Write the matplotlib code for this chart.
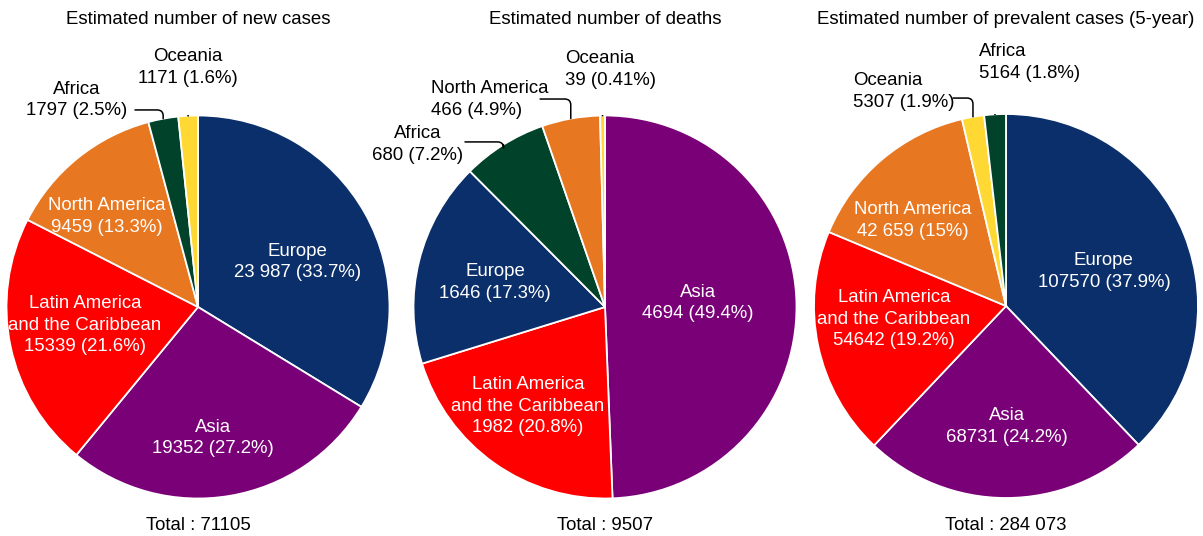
import numpy as np
import matplotlib
matplotlib.use("Agg")
import matplotlib.pyplot as plt

plt.rcParams['font.family'] = ['Liberation Sans', 'DejaVu Sans']

W, H = 1203, 536

# colours per region
colors = {
    'Europe': '#0b2f6b',
    'Asia': '#7a0077',
    'Latin America': '#ff0000',
    'North America': '#e87722',
    'Africa': '#00432a',
    'Oceania': '#ffd833',
}

titles = ['Estimated number of new cases',
          'Estimated number of deaths',
          'Estimated number of prevalent cases (5-year)']
totals = ['Total : 71105', 'Total : 9507', 'Total : 284 073']

# new cases (clockwise from 12 o'clock)
cases_regions = ['Europe', 'Asia', 'Latin America', 'North America', 'Africa', 'Oceania']
cases_values = [23987, 19352, 15339, 9459, 1797, 1171]
cases_labels = ['Europe\n23 987 (33.7%)', 'Asia\n19352 (27.2%)',
                'Latin America\nand the Caribbean\n15339 (21.6%)',
                'North America\n9459 (13.3%)', 'Africa\n1797 (2.5%)',
                'Oceania\n1171 (1.6%)']

# deaths
deaths_regions = ['Asia', 'Latin America', 'Europe', 'Africa', 'North America', 'Oceania']
deaths_values = [4694, 1982, 1646, 680, 466, 39]
deaths_labels = ['Asia\n4694 (49.4%)',
                 'Latin America\nand the Caribbean\n1982 (20.8%)',
                 'Europe\n1646 (17.3%)', 'Africa\n680 (7.2%)',
                 'North America\n466 (4.9%)', 'Oceania\n39 (0.41%)']

# prevalence
prev_regions = ['Europe', 'Asia', 'Latin America', 'North America', 'Oceania', 'Africa']
prev_values = [107570, 68731, 54642, 42659, 5307, 5164]
prev_labels = ['Europe\n107570 (37.9%)', 'Asia\n68731 (24.2%)',
               'Latin America\nand the Caribbean\n54642 (19.2%)',
               'North America\n42 659 (15%)', 'Oceania\n5307 (1.9%)',
               'Africa\n5164 (1.8%)']

# pie centre / radius in pixels
pies = [(198, 307, 191.5), (605, 307, 191.5), (1006, 306, 192)]

# label placement (pie units), alignment, connector start (None = inside)
cases_pos = [((0.52, 0.235), 'center', None), ((0.078, -0.684), 'center', None),
             ((-0.59, -0.094), 'center', None), ((-0.475, 0.475), 'center', None),
             ((-0.632, 1.081), 'center', (-0.329, 1.029)),
             ((-0.052, 1.253), 'center', (-0.052, 1.117))]
deaths_pos = [((0.486, 0.021), 'center', None), ((-0.402, -0.517), 'center', None),
              ((-0.574, 0.13), 'center', None),
              ((-0.977, 0.851), 'center', (-0.731, 0.862)),
              ((-0.909, 1.086), 'left', (-0.339, 1.086)),
              ((-0.209, 1.238), 'left', (-0.016, 1.117))]
prev_pos = [((0.51, 0.182), 'center', None), ((0.005, -0.63), 'center', None),
            ((-0.583, -0.068), 'center', None), ((-0.484, 0.443), 'center', None),
            ((-0.797, 1.117), 'left', (-0.276, 1.083)),
            ((-0.141, 1.268), 'left', (-0.047, 1.115))]

datasets = [(cases_regions, cases_values, cases_labels, cases_pos),
            (deaths_regions, deaths_values, deaths_labels, deaths_pos),
            (prev_regions, prev_values, prev_labels, prev_pos)]

fs = 13.4
ls = 1.38
fig = plt.figure(figsize=(W / 100, H / 100), dpi=100)

for i, (regions, values, labels, pos) in enumerate(datasets):
    cx, cy, r = pies[i]
    ax = fig.add_axes([(cx - r) / W, (H - cy - r) / H, 2 * r / W, 2 * r / H])
    wedges, _ = ax.pie(values, colors=[colors[g] for g in regions], startangle=90,
                       counterclock=False, radius=1,
                       wedgeprops=dict(edgecolor='white', linewidth=1.3))
    ax.set_xlim(-1, 1)
    ax.set_ylim(-1, 1)
    ax.axis('off')

    for w, lab, (xy, ha, start) in zip(wedges, labels, pos):
        if start is None:
            ax.text(xy[0], xy[1], lab, color='white', ha='center', va='center',
                    fontsize=fs, linespacing=ls)
        else:
            ax.text(xy[0], xy[1], lab, color='black', ha=ha, va='center',
                    fontsize=fs, multialignment=ha, linespacing=ls)
            mid = np.deg2rad((w.theta1 + w.theta2) / 2)
            tip = (np.cos(mid), np.sin(mid))
            if abs(start[0] - tip[0]) < 0.02:
                ax.plot([start[0], tip[0]], [start[1], tip[1]], color='black', lw=1.1)
            else:
                ax.annotate('', xy=tip, xytext=start,
                            arrowprops=dict(arrowstyle='-', color='black', lw=1.1,
                                            shrinkA=0, shrinkB=0,
                                            connectionstyle='angle,angleA=0,angleB=90,rad=6'))

    fig.text(cx / W, 1 - 20 / H, titles[i], ha='center', va='center', fontsize=fs)
    fig.text(cx / W, 1 - 525 / H, totals[i], ha='center', va='center', fontsize=fs)

fig.savefig('out.png', dpi=100)
